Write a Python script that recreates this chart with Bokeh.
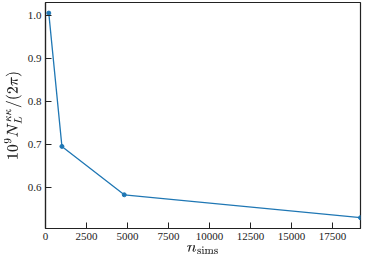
from bokeh.plotting import figure
from bokeh.models import FixedTicker, NumeralTickFormatter, Range1d
from bokeh.embed import file_html
from bokeh.resources import INLINE

n_sims = [200, 1000, 4800, 19200]
noise = [1.0045, 0.696, 0.584, 0.531]
x_ticks = [0, 2500, 5000, 7500, 10000, 12500, 15000, 17500]
y_ticks = [0.6, 0.7, 0.8, 0.9, 1.0]

p = figure(width=364, height=262, output_backend="svg", toolbar_location=None,
           x_range=Range1d(0, 19200), y_range=Range1d(0.506, 1.029),
           min_border_left=36, min_border_right=4, min_border_top=2, min_border_bottom=2)

p.line(n_sims, noise, line_color="#1f77b4", line_width=1.3)
p.scatter(n_sims, noise, size=4, fill_color="#1f77b4", line_color="#1f77b4")

p.xgrid.visible = False
p.ygrid.visible = False
p.outline_line_color = "#222222"
p.outline_line_width = 1.2

p.xaxis.ticker = FixedTicker(ticks=x_ticks)
p.yaxis.ticker = FixedTicker(ticks=y_ticks)
p.yaxis.formatter = NumeralTickFormatter(format="0.0")

for ax in (p.xaxis[0], p.yaxis[0]):
    ax.major_tick_in = 6
    ax.major_tick_out = 0
    ax.minor_tick_line_color = None
    ax.axis_line_color = "#222222"
    ax.axis_line_width = 1.2
    ax.major_tick_line_color = "#222222"
    ax.major_label_text_font = "Liberation Serif"
    ax.major_label_text_font_size = "11px"
    ax.major_label_text_color = "#222222"
    ax.axis_label_text_font = "Liberation Serif"
    ax.axis_label_text_font_style = "normal"
    ax.axis_label_text_font_size = "14px"
    ax.axis_label_text_color = "#222222"

p.xaxis.axis_label = r"$$n_{\mathrm{sims}}$$"
p.yaxis.axis_label = r"$$10^9 N_L^{\kappa\kappa}/(2\pi)$$"
p.xaxis.major_label_standoff = 4
p.yaxis.major_label_standoff = 4
p.xaxis.axis_label_standoff = 2
p.yaxis.axis_label_standoff = 3

open("out.html", "w").write(file_html(p, INLINE))
